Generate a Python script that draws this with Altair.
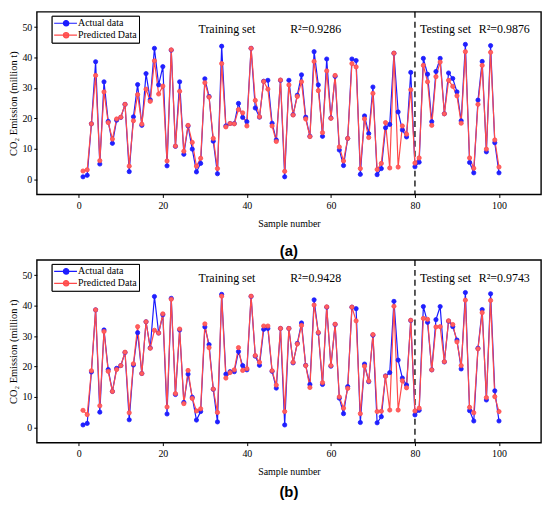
import altair as alt
import pandas as pd

samples = list(range(1, 101))
actual = [0.8, 1.3, 18.2, 38.6, 5.0, 32.0, 19.0, 11.8, 19.4, 20.3,
          24.6, 2.5, 20.5, 31.1, 17.7, 34.7, 26.1, 43.0, 31.0, 37.0,
          4.4, 42.4, 10.8, 32.0, 8.2, 17.5, 9.9, 2.4, 5.2, 33.0,
          27.2, 12.5, 1.8, 43.7, 17.5, 18.3, 18.3, 24.9, 20.3, 18.9,
          43.0, 23.4, 20.4, 32.2, 32.5, 18.4, 12.9, 32.5, 0.8, 32.5,
          21.2, 27.6, 34.3, 20.4, 14.1, 41.9, 31.0, 14.1, 39.5, 20.1,
          33.8, 9.6, 4.5, 13.4, 39.5, 39.0, 1.6, 20.8, 15.0, 30.3,
          1.5, 3.5, 16.9, 18.0, 41.4, 22.1, 16.2, 13.9, 35.1, 4.1,
          5.6, 39.7, 34.5, 18.9, 35.4, 39.7, 21.5, 34.9, 33.1, 28.7,
          19.2, 44.3, 5.5, 2.1, 26.0, 38.7, 9.0, 43.9, 12.0, 2.1]
pred_a = [2.7, 3.1, 18.2, 34.1, 6.1, 28.7, 18.6, 13.2, 19.8, 20.4,
          24.6, 4.3, 19.2, 27.8, 18.1, 29.6, 25.6, 38.9, 28.0, 30.6,
          6.0, 42.5, 10.9, 28.9, 9.2, 17.7, 12.1, 4.3, 6.9, 31.7,
          27.0, 13.4, 3.5, 38.0, 17.2, 18.3, 18.2, 22.9, 21.8, 17.5,
          43.0, 25.9, 20.5, 32.1, 29.6, 17.5, 12.4, 32.6, 2.6, 31.0,
          21.1, 27.2, 32.0, 19.8, 14.0, 38.7, 29.1, 15.3, 35.6, 20.0,
          34.1, 10.6, 6.0, 13.4, 38.0, 36.9, 3.5, 19.8, 13.7, 28.2,
          3.2, 5.2, 18.6, 3.7, 41.4, 4.0, 17.5, 14.8, 29.4, 5.3,
          7.0, 37.4, 32.0, 17.7, 33.7, 38.5, 21.5, 32.5, 30.5, 27.4,
          18.4, 41.9, 7.0, 3.6, 24.6, 37.4, 9.9, 41.7, 12.9, 4.0]
pred_b = [5.6, 4.2, 18.6, 38.6, 7.1, 31.5, 18.4, 11.8, 19.0, 20.3,
          24.7, 4.8, 20.9, 33.1, 17.7, 34.7, 26.0, 31.9, 31.0, 37.3,
          6.7, 42.1, 11.1, 32.3, 7.8, 18.7, 9.5, 5.4, 6.1, 34.0,
          26.2, 12.6, 4.9, 43.1, 16.2, 18.0, 18.9, 26.2, 18.7, 19.3,
          43.1, 23.6, 21.4, 33.3, 33.3, 18.6, 13.9, 32.5, 5.2, 32.5,
          21.4, 27.4, 33.5, 20.3, 13.1, 40.2, 31.2, 14.7, 39.6, 20.3,
          33.9, 10.0, 6.3, 12.8, 39.5, 35.0, 4.5, 20.1, 15.2, 30.5,
          5.2, 5.3, 16.8, 5.7, 39.8, 5.7, 15.3, 13.0, 35.2, 5.4,
          6.3, 35.8, 35.5, 18.9, 33.0, 33.1, 21.6, 35.0, 33.8, 28.1,
          20.3, 41.8, 6.6, 4.8, 25.8, 37.7, 9.8, 41.7, 10.1, 5.2]

series_names = ["Actual data", "Predicted Data"]
x_ticks = [0, 20, 40, 60, 80, 100]
y_ticks = [0, 10, 20, 30, 40, 50]
split_at = [80]
notes_a = ["Training set", "R\u00b2=0.9286", "Testing set", "R\u00b2=0.9876"]
notes_b = ["Training set", "R\u00b2=0.9428", "Testing set", "R\u00b2=0.9743"]
note_x = [28.5, 50.3, 81.2, 95.2]
note_y = [49.2, 49.2, 49.2, 49.2]

SERIF = "Liberation Serif"
BLUE_LINE = "#1a1aff"
RED_LINE = "#ff4a4a"
BLUE_FILL = "#2020ff"
RED_FILL = "#ff6060"
# line segment with a small circle, drawn in symbol units (size 100 -> 5 px per unit)
LEGEND_PATH = ("M-1,0L3.6,0M0.86,0A0.54,0.54 0 1,0 1.94,0"
               "A0.54,0.54 0 1,0 0.86,0Z")


def panel(pred, notes, tag, x_title_pad, tag_offset):
    df = pd.DataFrame({
        "sample": samples + samples,
        "value": actual + pred,
        "series": [series_names[0]] * len(samples) + [series_names[1]] * len(samples),
    })
    notes_df = pd.DataFrame({"x": note_x, "y": note_y, "t": notes})
    split_df = pd.DataFrame({"split": split_at})

    xs = alt.Scale(domain=[-10, 110], nice=False, zero=False)
    ys = alt.Scale(domain=[-5, 55], nice=False, zero=False)
    xaxis = alt.Axis(values=x_ticks, title="Sample number", titlePadding=x_title_pad,
                     labelPadding=3, labelFlush=False)
    yaxis = alt.Axis(values=y_ticks, title="CO\u2082 Emission (million t)", titlePadding=3,
                     titleFontSize=10.5)
    stroke_scale = alt.Scale(domain=series_names, range=[BLUE_LINE, RED_LINE])
    fill_scale = alt.Scale(domain=series_names, range=[BLUE_FILL, RED_FILL])
    leg = alt.Legend(title=None, orient="none", legendX=15, legendY=4,
                     symbolType=LEGEND_PATH, symbolSize=100, symbolStrokeWidth=1.2,
                     labelFont=SERIF, labelFontSize=10, labelColor="black",
                     strokeColor="black", fillColor="white", padding=1.5,
                     rowPadding=0, labelOffset=13, cornerRadius=0, symbolOpacity=1)

    lines = alt.Chart(df).mark_line(strokeWidth=1.2).encode(
        x=alt.X("sample:Q", scale=xs, axis=xaxis),
        y=alt.Y("value:Q", scale=ys, axis=yaxis),
        stroke=alt.Stroke("series:N", scale=stroke_scale, legend=leg),
    )
    pts = alt.Chart(df).mark_point(size=18, opacity=1, strokeWidth=0.8).encode(
        x=alt.X("sample:Q", scale=xs, axis=xaxis),
        y=alt.Y("value:Q", scale=ys, axis=yaxis),
        stroke=alt.Stroke("series:N", scale=stroke_scale, legend=leg),
        fill=alt.Fill("series:N", scale=fill_scale, legend=leg),
    )
    rule = alt.Chart(split_df).mark_rule(strokeDash=[6, 4], color="black", strokeWidth=1.3).encode(
        x=alt.X("split:Q", scale=xs, axis=xaxis),
    )
    texts = alt.Chart(notes_df).mark_text(align="left", baseline="middle", font=SERIF,
                                          fontSize=12, color="black").encode(
        x=alt.X("x:Q", scale=xs, axis=xaxis),
        y=alt.Y("y:Q", scale=ys, axis=yaxis),
        text="t:N",
    )
    return alt.layer(rule, lines, pts, texts).properties(
        width=508, height=184,
        title=alt.TitleParams(tag, orient="bottom", font="Liberation Sans", fontSize=15,
                              fontWeight="bold", offset=tag_offset, color="black"),
    ).resolve_scale(stroke="independent", fill="independent")


chart = alt.vconcat(
    panel(pred_a, notes_a, "(a)", 8, 16),
    panel(pred_b, notes_b, "(b)", 8, 9),
    spacing=-4,
).resolve_scale(stroke="independent", fill="independent").resolve_legend(
    stroke="independent", fill="independent"
).properties(
    padding={"left": 0, "top": 0, "right": 0, "bottom": 0}
).configure_view(
    stroke="black", strokeWidth=1.4
).configure_axis(
    domain=False, grid=False, labelFont=SERIF, labelFontSize=10, labelColor="black",
    titleFont=SERIF, titleFontSize=10, titleFontWeight="normal", titleColor="black",
    tickColor="black", tickSize=3, labelPadding=2
).configure_legend(
    labelFont=SERIF
)

chart.save("out.html", embed_options={"renderer": "svg", "actions": False})
